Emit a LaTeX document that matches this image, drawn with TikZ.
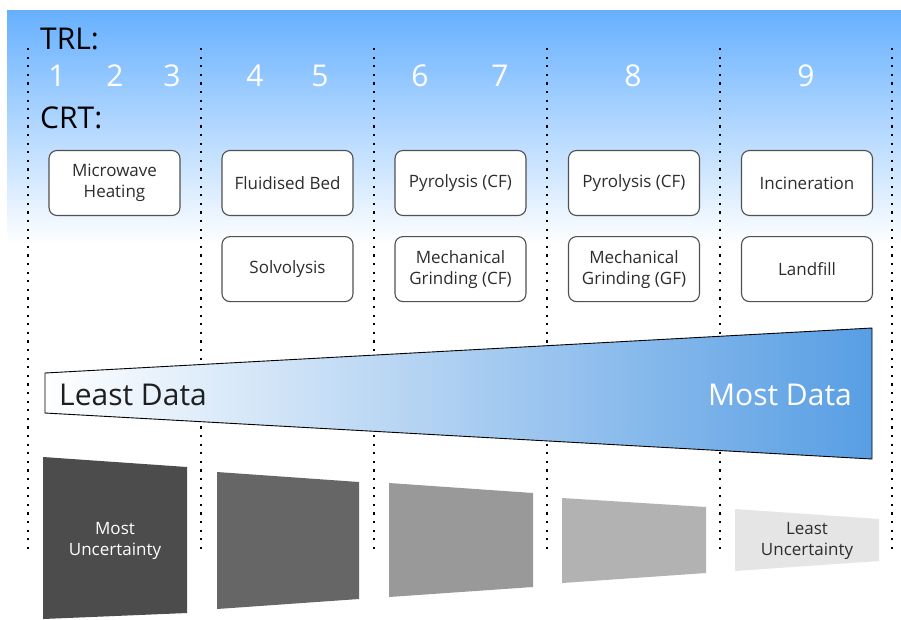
\documentclass[tikz,border=0pt]{standalone}
\usepackage{fontspec}
\setmainfont{Open Sans}
\usetikzlibrary{positioning}
\definecolor{SkyTop}{RGB}{102,176,255}
\definecolor{DataBlue}{RGB}{88,158,228}
\definecolor{BoxLine}{RGB}{80,80,80}
\definecolor{BoxText}{RGB}{45,45,45}

\begin{document}
\begin{tikzpicture}[
  x=1pt, y=-1pt,
  crtbox/.style={rectangle, draw=BoxLine, line width=1.1pt, fill=white, rounded corners=8pt, align=center, minimum width=131pt, minimum height=65pt, text=BoxText, font=\fontsize{17}{21}\selectfont},
  trlnum/.style={text=white, font=\fontsize{30}{36}\selectfont},
  biglabel/.style={font=\fontsize{30}{36}\selectfont},
  uncert/.style={align=center, font=\fontsize{17}{21}\selectfont},
  divider/.style={line width=2.1pt, dash pattern=on 2.1pt off 6.5pt},
]
\useasboundingbox (0,0) rectangle (901,619);
\fill[white] (0,0) rectangle (901,619);
\shade[top color=SkyTop, bottom color=white] (7,10) rectangle (901,245);
% columns
\foreach \x in {28,201,374,547,720,892}
  \draw[divider] (\x,48) -- (\x,550);
% headings
\node[biglabel, anchor=west, inner sep=0pt] (trl) at (40,39) {TRL:};
\node[biglabel, anchor=west, inner sep=0pt] (crt) at (40,117.5) {CRT:};
\foreach \n/\x in {1/57,2/115,3/172,4/255,5/320,6/420,7/500,8/633,9/806}
  \node[trlnum, inner sep=0pt] (trl\n) at (\x,76) {\n};
% technologies
\node[crtbox] (mwave) at (114.5,183) {Microwave\\Heating};
\node[crtbox] (fbed) at (287.5,183) {Fluidised Bed};
\node[crtbox, below=20pt of fbed] (solvo) {Solvolysis};
\node[crtbox] (pyrocf) at (460.5,183) {Pyrolysis (CF)};
\node[crtbox, below=20pt of pyrocf] (mgcf) {Mechanical\\Grinding (CF)};
\node[crtbox] (pyrogf) at (634,183) {Pyrolysis (CF)};
\node[crtbox, below=20pt of pyrogf] (mggf) {Mechanical\\Grinding (GF)};
\node[crtbox] (incin) at (807,183) {Incineration};
\node[crtbox, below=20pt of incin] (lfill) {Landfill};
% data wedge
\shadedraw[left color=white, right color=DataBlue, draw=black, line width=0.9pt]
  (45,373) -- (872,328) -- (872,459) -- (45,413) -- cycle;
\node[biglabel, anchor=west, inner sep=0pt, text=black!88] (least) at (59,395) {Least Data};
\node[biglabel, anchor=east, inner sep=0pt, text=white] (most) at (852,395) {Most Data};
% uncertainty blocks
\fill[black!70] (43,457) -- (187,467) -- (187,613) -- (43,619) -- cycle;
\fill[black!60] (217,472) -- (359,482) -- (359,599) -- (217,609) -- cycle;
\fill[black!40] (389,483) -- (533,493) -- (533,587) -- (389,597) -- cycle;
\fill[black!30] (562,498) -- (706,507) -- (706,573) -- (562,583) -- cycle;
\fill[black!10] (735,509) -- (879,519) -- (879,561) -- (735,571) -- cycle;
\node[uncert, text=white] (mostu) at (115,541) {Most\\Uncertainty};
\node[uncert, text=BoxText] (leastu) at (807,541) {Least\\Uncertainty};
\end{tikzpicture}
\end{document}
